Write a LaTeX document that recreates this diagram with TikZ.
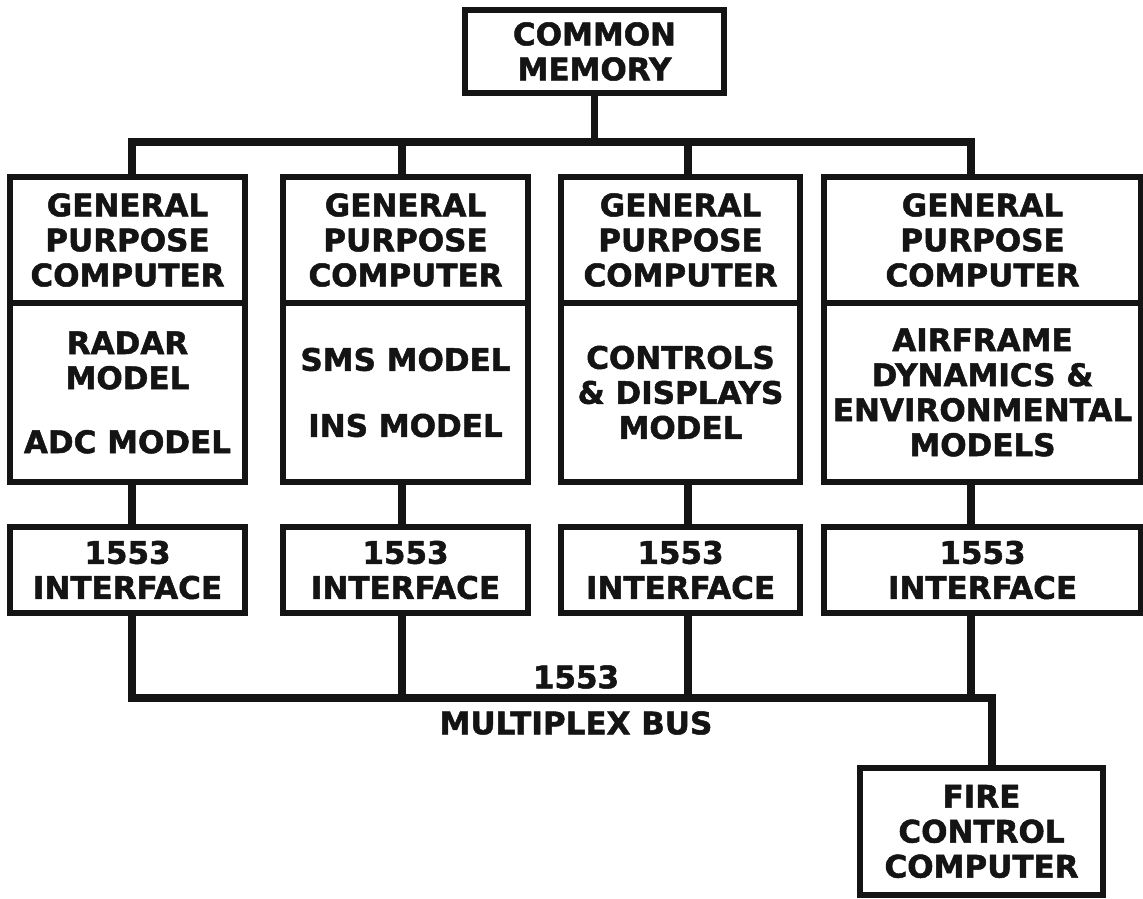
\documentclass[tikz,border=0pt]{standalone}
\usepackage{fontspec}
\setmainfont{DejaVu Sans}[BoldFeatures={FakeBold=1.6}]
\usetikzlibrary{positioning,calc}
\tikzset{ckpx/.style={x=0.5pt,y=-0.5pt,every node/.style={inner sep=0pt,outer sep=0pt,anchor=center,align=center}}}
\definecolor{ckink}{HTML}{141414}
\tikzset{
  blk/.style={draw=ckink,line width=2.7pt,fill=white,text=ckink,font=\fontsize{15.5}{17.5}\selectfont\bfseries},
  wire/.style={draw=ckink,line width=3.8pt},
  rot/.style={text=ckink,font=\fontsize{15.5}{17.5}\selectfont\bfseries},
}

\begin{document}
\begin{tikzpicture}[ckpx,
  gpc/.style={blk,minimum height=63pt},
  mdl/.style={blk,minimum height=89.5pt},
  ifc/.style={blk,minimum height=43pt}]
  \useasboundingbox (0,0) rectangle (1143,898);
  \node[blk,minimum width=129.5pt,minimum height=41.5pt] (mem) at (594.5,51.5) {COMMON\\MEMORY};
  \node[gpc,minimum width=117.5pt] (gpc1) at (127.5,240) {GENERAL\\PURPOSE\\COMPUTER};
  \node[gpc,minimum width=122.5pt] (gpc2) at (405.5,240) {GENERAL\\PURPOSE\\COMPUTER};
  \node[gpc,minimum width=119.5pt] (gpc3) at (680.5,240) {GENERAL\\PURPOSE\\COMPUTER};
  \node[gpc,minimum width=158.5pt] (gpc4) at (982.5,240) {GENERAL\\PURPOSE\\COMPUTER};
  \node[mdl,minimum width=117.5pt,below=0pt of gpc1] (mdl1) {RADAR\\MODEL\\[14.5pt]ADC MODEL};
  \node[mdl,minimum width=122.5pt,below=0pt of gpc2] (mdl2) {SMS MODEL\\[15.5pt]INS MODEL};
  \node[mdl,minimum width=119.5pt,below=0pt of gpc3] (mdl3) {CONTROLS\\\& DISPLAYS\\MODEL};
  \node[mdl,minimum width=158.5pt,below=0pt of gpc4] (mdl4) {AIRFRAME\\DYNAMICS \&\\ENVIRONMENTAL\\MODELS};
  \foreach \n/\w in {1/117.5pt,2/122.5pt,3/119.5pt,4/158.5pt}
    \node[ifc,minimum width=\w,below=22.5pt of mdl\n] (ifc\n) {1553\\INTERFACE};
  \node[blk,minimum width=121.5pt,minimum height=63.5pt] (fcc) at (981.5,831.5) {FIRE\\CONTROL\\COMPUTER};
  % busses
  \coordinate (topbus) at (0,142);
  \coordinate (mbus) at (0,698);
  \draw[wire] (mem.south) -- (mem.south |- topbus);
  \draw[wire] ([xshift=2.25pt]gpc1.north) |- ([xshift=-5.75pt]gpc4.north |- topbus) -- ([xshift=-5.75pt]gpc4.north);
  \draw[wire] ([xshift=-1.75pt]gpc2.north) -- ([xshift=-1.75pt]gpc2.north |- topbus);
  \draw[wire] ([xshift=3.75pt]gpc3.north) -- ([xshift=3.75pt]gpc3.north |- topbus);
  \foreach \n/\d in {1/2.25pt,2/-1.75pt,3/3.75pt,4/-5.75pt}
    \draw[wire] ([xshift=\d]mdl\n.south) -- ([xshift=\d]ifc\n.north);
  \draw[wire] ([xshift=2.25pt]ifc1.south) |- ([xshift=5.25pt]fcc.north |- mbus) -- ([xshift=5.25pt]fcc.north);
  \foreach \n/\d in {2/-1.75pt,3/3.75pt,4/-5.75pt}
    \draw[wire] ([xshift=\d]ifc\n.south) -- ([xshift=\d]ifc\n.south |- mbus);
  \node[rot] (busnum) at (576,677) {1553};
  \node[rot] (busname) at (576,723) {MULTIPLEX BUS};
\end{tikzpicture}
\end{document}
